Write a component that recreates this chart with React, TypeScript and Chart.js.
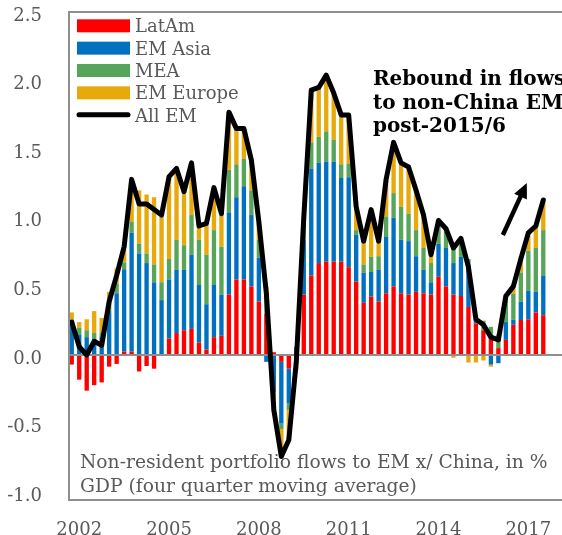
import React, { useEffect, useRef } from 'react';
import { Chart, registerables } from 'chart.js';

Chart.register(...registerables);

// Quarterly categories (2001Q4 .. 2018Q1); data runs to 2017Q3
const quarters = [
  '2001Q4',
  '2002Q1', '2002Q2', '2002Q3', '2002Q4', '2003Q1', '2003Q2', '2003Q3', '2003Q4',
  '2004Q1', '2004Q2', '2004Q3', '2004Q4', '2005Q1', '2005Q2', '2005Q3', '2005Q4',
  '2006Q1', '2006Q2', '2006Q3', '2006Q4', '2007Q1', '2007Q2', '2007Q3', '2007Q4',
  '2008Q1', '2008Q2', '2008Q3', '2008Q4', '2009Q1', '2009Q2', '2009Q3', '2009Q4',
  '2010Q1', '2010Q2', '2010Q3', '2010Q4', '2011Q1', '2011Q2', '2011Q3', '2011Q4',
  '2012Q1', '2012Q2', '2012Q3', '2012Q4', '2013Q1', '2013Q2', '2013Q3', '2013Q4',
  '2014Q1', '2014Q2', '2014Q3', '2014Q4', '2015Q1', '2015Q2', '2015Q3', '2015Q4',
  '2016Q1', '2016Q2', '2016Q3', '2016Q4', '2017Q1', '2017Q2', '2017Q3', '2017Q4',
  '2018Q1',
];

const yearTicks = ['2002', '2005', '2008', '2011', '2014', '2017'];
const yTicks = [-1, -0.5, 0, 0.5, 1, 1.5, 2, 2.5];

const latAm = [
  -0.07, -0.18, -0.26, -0.22, -0.2, -0.085, -0.065, 0.025, 0.025, -0.12,
  -0.08, -0.1, 0.0, 0.12, 0.16, 0.18, 0.19, 0.09, 0.04, 0.13,
  0.14, 0.44, 0.55, 0.55, 0.5, 0.39, 0.3, 0.02, -0.05, -0.1,
  0.04, 0.44, 0.58, 0.67, 0.68, 0.68, 0.68, 0.64, 0.535, 0.38,
  0.425, 0.39, 0.45, 0.5, 0.45, 0.44, 0.46, 0.45, 0.44, 0.57,
  0.5, 0.44, 0.43, 0.35, 0.23, 0.18, 0.12, 0.05, 0.11, 0.22,
  0.255, 0.26, 0.31, 0.29,
];

const emAsia = [
  0.22, 0.15, 0.13, 0.12, 0.13, 0.32, 0.45, 0.6, 0.865, 0.74,
  0.67, 0.53, 0.4, 0.43, 0.46, 0.44, 0.54, 0.42, 0.33, 0.38,
  0.3, 0.6, 0.6, 0.68, 0.52, 0.32, -0.05, -0.27, -0.45, -0.25,
  0.02, 0.4, 0.78, 0.73, 0.73, 0.73, 0.61, 0.656, 0.34, 0.22,
  0.18, 0.23, 0.41, 0.5, 0.39, 0.39, 0.26, 0.17, 0.09, 0.24,
  0.28, 0.23, 0.285, 0.31, 0.025, 0.0, -0.07, -0.06, 0.13, 0.036,
  0.134, 0.21, 0.15, 0.29,
];

const mea = [
  0.04, 0.05, 0.05, 0.04, 0.03, 0.07, 0.07, 0.05, 0.08, 0.07,
  0.07, 0.13, 0.13, 0.15, 0.22, 0.18, 0.29, 0.33, 0.36, 0.4,
  0.35, 0.31, 0.24, 0.2, 0.18, 0.13, 0.1, -0.03, -0.04, -0.05,
  0.0, 0.1, 0.19, 0.19, 0.22, 0.16, 0.1, 0.1, 0.035, 0.06,
  0.11, 0.1, 0.15, 0.18, 0.24, 0.2, 0.19, 0.16, 0.14, 0.17,
  0.12, 0.11, 0.12, 0.04, 0.03, 0.07, 0.085, 0.1, 0.16, 0.19,
  0.21, 0.29, 0.32, 0.33,
];

const emEurope = [
  0.05, 0.04, 0.08, 0.16, 0.11, 0.07, 0.11, 0.1, 0.3, 0.39,
  0.43, 0.49, 0.49, 0.6, 0.52, 0.39, 0.38, 0.1, 0.22, 0.3,
  0.24, 0.42, 0.25, 0.21, 0.22, 0.14, 0.1, -0.12, -0.18, -0.22,
  -0.11, 0.06, 0.38, 0.35, 0.39, 0.34, 0.35, 0.34, 0.17, 0.17,
  0.33, 0.11, 0.27, 0.34, 0.32, 0.34, 0.29, 0.24, 0.05, 0.0,
  0.02, -0.02, 0.0, -0.055, -0.055, -0.04, -0.015, 0.0, 0.03, 0.04,
  0.12, 0.11, 0.16, 0.21,
];

const allEM = [
  0.24, 0.06, 0.0, 0.1, 0.07, 0.39, 0.58, 0.79, 1.28, 1.1,
  1.1, 1.06, 1.02, 1.3, 1.36, 1.19, 1.4, 0.94, 0.96, 1.22,
  1.03, 1.77, 1.65, 1.65, 1.42, 0.97, 0.45, -0.4, -0.74, -0.62,
  -0.05, 1.0, 1.93, 1.95, 2.04, 1.91, 1.75, 1.75, 1.08, 0.83,
  1.06, 0.83, 1.28, 1.55, 1.4, 1.37, 1.2, 1.02, 0.73, 0.98,
  0.92, 0.78, 0.85, 0.64, 0.26, 0.22, 0.13, 0.11, 0.43, 0.5,
  0.7, 0.89, 0.94, 1.13,
];

// Arrow annotation in data coordinates [category index, value]
const arrowTail = [57.6, 0.875];
const arrowTip = [60.8, 1.254];

const annotationLines = ['Rebound in flows', 'to non-China EM', 'post-2015/6'];
const captionLines = ['Non-resident portfolio flows to EM x/ China, in %', 'GDP (four quarter moving average)'];

const FONT = "'DejaVu Serif', serif";
const GRAY_TEXT = '#595959';
const FRAME = '#8f8f8f';
const COLORS = { latAm: '#ff0000', emAsia: '#0070c0', mea: '#57a559', emEurope: '#e8a90a', allEM: '#000000' };

const decorPlugin = {
  id: 'decor',
  beforeDatasetsDraw(chart: any) {
    const ctx = chart.ctx;
    const { left } = chart.chartArea;
    ctx.save();
    ctx.fillStyle = GRAY_TEXT;
    ctx.font = `18.7px ${FONT}`;
    ctx.textBaseline = 'alphabetic';
    ctx.textAlign = 'left';
    ctx.fillText(captionLines[0], left + 12, 468);
    ctx.fillText(captionLines[1], left + 12, 492);
    ctx.restore();
  },
  afterDatasetDraw(chart: any, args: any) {
    // zero line over the bars, under the All EM line
    if (args.index !== 0) return;
    const ctx = chart.ctx;
    const { left, right } = chart.chartArea;
    const y0 = Math.round(chart.scales.y.getPixelForValue(0));
    ctx.save();
    ctx.fillStyle = FRAME;
    ctx.fillRect(left, y0 - 1, right - left, 2);
    ctx.restore();
  },
  afterDatasetsDraw(chart: any) {
    const ctx = chart.ctx;
    const { left, right, top, bottom } = chart.chartArea;
    const xs = chart.scales.x;
    const ys = chart.scales.y;
    ctx.save();
    // frame (left, top, bottom)
    ctx.fillStyle = FRAME;
    ctx.fillRect(left, top - 1, right - left + 2, 2);
    ctx.fillRect(left, top - 1, 2, bottom - top + 2);
    ctx.fillRect(left, bottom - 1, right - left + 2, 2);

    // legend
    const ds = chart.data.datasets;
    ctx.font = `18px ${FONT}`;
    ctx.textBaseline = 'alphabetic';
    ctx.textAlign = 'left';
    ds.forEach((d: any, k: number) => {
      const base = 32.3 + k * 22.35;
      if (d.type === 'line') {
        ctx.strokeStyle = d.borderColor;
        ctx.lineWidth = 5;
        ctx.lineCap = 'round';
        ctx.beginPath();
        ctx.moveTo(left + 11, base - 7);
        ctx.lineTo(left + 60, base - 7);
        ctx.stroke();
      } else {
        ctx.fillStyle = d.backgroundColor;
        ctx.fillRect(left + 9, base - 13, 53, 13);
      }
      ctx.fillStyle = GRAY_TEXT;
      ctx.fillText(d.label, left + 67, base);
    });

    // annotation text
    ctx.fillStyle = '#000';
    ctx.font = `bold 20px ${FONT}`;
    annotationLines.forEach((t, k) => {
      ctx.fillText(t, 373, 85 + k * 23.5);
    });

    // arrow
    const x0 = xs.getPixelForValue(arrowTail[0]);
    const y0 = ys.getPixelForValue(arrowTail[1]);
    const x1 = xs.getPixelForValue(arrowTip[0]);
    const y1 = ys.getPixelForValue(arrowTip[1]);
    const ang = Math.atan2(y1 - y0, x1 - x0);
    const headLen = 15;
    const headW = 7;
    const bx = x1 - headLen * Math.cos(ang);
    const by = y1 - headLen * Math.sin(ang);
    ctx.strokeStyle = '#000';
    ctx.lineWidth = 4.5;
    ctx.lineCap = 'butt';
    ctx.beginPath();
    ctx.moveTo(x0, y0);
    ctx.lineTo(bx + Math.cos(ang), by + Math.sin(ang));
    ctx.stroke();
    ctx.fillStyle = '#000';
    ctx.beginPath();
    ctx.moveTo(x1, y1);
    ctx.lineTo(bx + headW * Math.sin(ang), by - headW * Math.cos(ang));
    ctx.lineTo(bx - headW * Math.sin(ang), by + headW * Math.cos(ang));
    ctx.closePath();
    ctx.fill();
    ctx.restore();
  },
};

export default function App() {
  const ref = useRef<HTMLCanvasElement>(null);

  useEffect(() => {
    const canvas = ref.current;
    if (!canvas) return;
    const barCommon = {
      type: 'bar' as const,
      stack: 'em',
      order: 0,
      barPercentage: 0.58,
      categoryPercentage: 1,
      borderWidth: 0,
    };
    const chart = new Chart(canvas, {
      type: 'bar',
      data: {
        labels: quarters,
        datasets: [
          { ...barCommon, label: 'LatAm', data: latAm, backgroundColor: COLORS.latAm },
          { ...barCommon, label: 'EM Asia', data: emAsia, backgroundColor: COLORS.emAsia },
          { ...barCommon, label: 'MEA', data: mea, backgroundColor: COLORS.mea },
          { ...barCommon, label: 'EM Europe', data: emEurope, backgroundColor: COLORS.emEurope },
          {
            type: 'line',
            label: 'All EM',
            data: allEM,
            stack: 'total',
            order: -1,
            borderColor: COLORS.allEM,
            backgroundColor: COLORS.allEM,
            borderWidth: 5,
            pointRadius: 0,
            pointHoverRadius: 0,
            tension: 0,
            fill: false,
            borderJoinStyle: 'round',
            borderCapStyle: 'round',
          } as any,
        ],
      },
      options: {
        responsive: false,
        animation: false,
        devicePixelRatio: 1,
        layout: { padding: { top: 12, left: 0, right: 0, bottom: 0 } },
        plugins: {
          legend: { display: false },
          tooltip: { enabled: false },
          title: { display: false },
        },
        scales: {
          x: {
            stacked: true,
            offset: true,
            grid: { display: false },
            border: { display: false },
            afterFit: (s: any) => {
              s.height = 35;
              s.paddingLeft = 0;
              s.paddingRight = 0;
            },
            ticks: {
              autoSkip: false,
              maxRotation: 0,
              minRotation: 0,
              padding: 12,
              color: GRAY_TEXT,
              font: { family: FONT, size: 18 },
              callback: (_v: any, i: number) => {
                const q = quarters[i];
                const y = q.slice(0, 4);
                return q.endsWith('Q1') && yearTicks.includes(y) ? y : '';
              },
            },
          },
          y: {
            stacked: true,
            min: -1.057,
            max: 2.5,
            afterBuildTicks: (s: any) => {
              s.ticks = yTicks.map((v) => ({ value: v }));
            },
            afterFit: (s: any) => {
              s.width = 68;
              s.paddingTop = 0;
              s.paddingBottom = 0;
            },
            border: { display: false },
            grid: { display: false },
            ticks: {
              padding: 18,
              labelOffset: 4,
              color: GRAY_TEXT,
              font: { family: FONT, size: 18 },
              callback: (v: any) => Number(v).toFixed(1),
            },
          },
        },
      },
      plugins: [decorPlugin],
    });
    return () => chart.destroy();
  }, []);

  return (
    <div
      style={{
        position: 'absolute',
        left: 0,
        top: 0,
        width: 562,
        height: 535,
        overflow: 'hidden',
        background: '#ffffff',
      }}
    >
      <canvas ref={ref} width={562} height={535} style={{ display: 'block', width: 562, height: 535 }} />
    </div>
  );
}
